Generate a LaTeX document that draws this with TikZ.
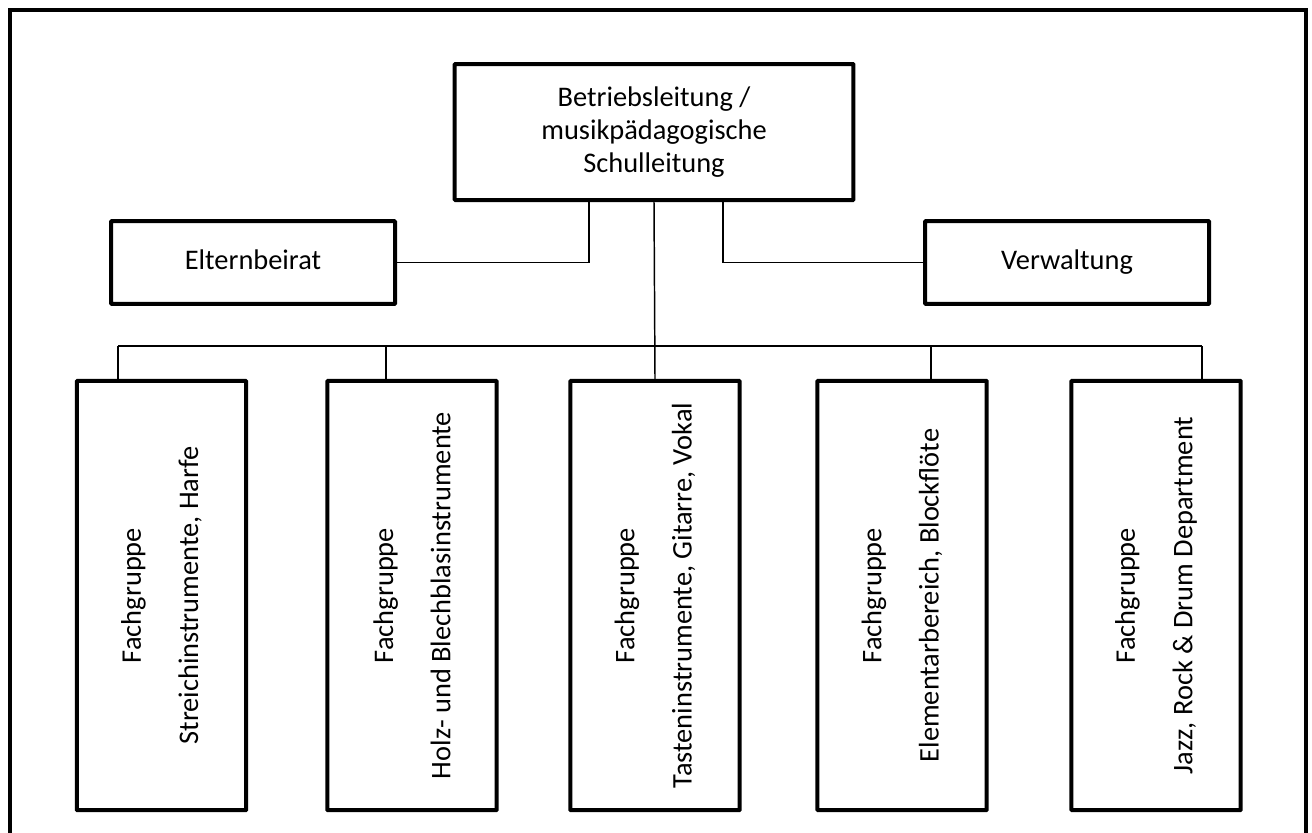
\documentclass[tikz,border=0pt]{standalone}
\usepackage{fontspec}
\setmainfont{Carlito}
\usetikzlibrary{calc}
\tikzset{
  box/.style = {draw, line width=3pt, rounded corners=0.5pt, inner sep=0pt},
  leitbox/.style = {box, minimum width=299pt, minimum height=102pt, align=center},
  sidebox/.style = {box, minimum width=213pt, minimum height=62pt, text height=14pt, text depth=4pt},
  fachbox/.style = {box, minimum width=127pt, minimum height=322pt},
  fachtext/.style = {rotate=90, align=center},
  conn/.style = {line width=1.1pt}
}
\newcommand{\fachgruppe}[1]{Fachgruppe\\[18pt]#1}

\begin{document}
\begin{tikzpicture}[x=0.75pt, y=-0.75pt, font=\fontsize{21.3}{25}\selectfont]
\useasboundingbox (0,0) rectangle (1312,832);
% outer frame, open at the bottom
\draw[line width=3pt] (10,840) -- (10,10) -- (1306,10) -- (1306,840);

% top
\node[leitbox] (leitung) at (654,132) {Betriebsleitung /\\musikpädagogische\\Schulleitung};
\node[sidebox] (eltern) at (253,262.5) {Elternbeirat};
\node[sidebox] (verw) at (1067,262.5) {Verwaltung};
\draw[conn] (eltern.east) -| ($(leitung.south)+(-65,0)$);
\draw[conn] (verw.west) -| ($(leitung.south)+(69,0)$);

% Fachgruppen
\node[fachbox] (fg1) at (161.5,595.5) {};
\node[fachbox] (fg2) at (412,595.5) {};
\node[fachbox] (fg3) at (655,595.5) {};
\node[fachbox] (fg4) at (902,595.5) {};
\node[fachbox] (fg5) at (1156,595.5) {};
\node[fachtext] (t1) at (fg1) {\fachgruppe{Streichinstrumente, Harfe}};
\node[fachtext] (t2) at (fg2) {\fachgruppe{Holz- und Blechblasinstrumente}};
\node[fachtext] (t3) at (fg3) {\fachgruppe{Tasteninstrumente, Gitarre, Vokal}};
\node[fachtext] (t4) at (fg4) {\fachgruppe{Elementarbereich, Blockflöte}};
\node[fachtext] (t5) at (fg5) {\fachgruppe{Jazz, Rock \& Drum Department}};

% bus
\coordinate (bus) at (655,346);
\coordinate (d1) at (118,346);
\coordinate (d2) at (386,346);
\coordinate (d4) at (931,346);
\coordinate (d5) at (1202,346);
\draw[conn] (leitung.south) -- (fg3.north);
\draw[conn] (d1) -- (d5);
\foreach \d/\f in {d1/fg1,d2/fg2,d4/fg4,d5/fg5} {
  \draw[conn] (\d) -- (\d |- \f.north);
}
\end{tikzpicture}
\end{document}
